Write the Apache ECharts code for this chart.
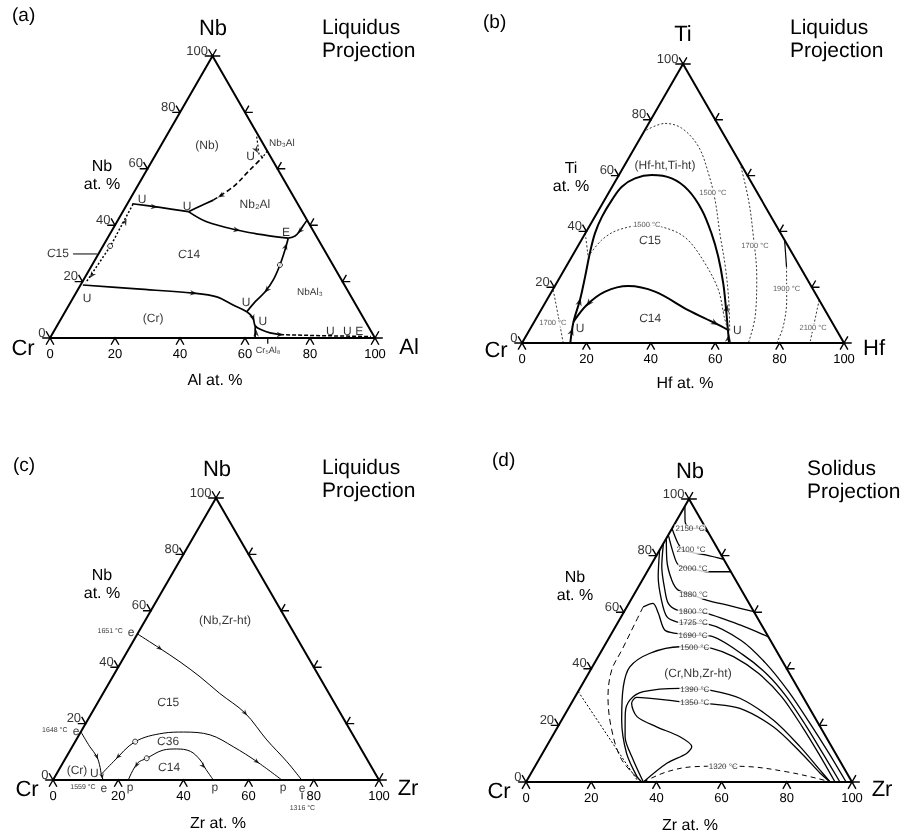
<!DOCTYPE html>
<html>
<head>
<meta charset="utf-8">
<title>Ternary liquidus and solidus projections</title>
<script src="https://cdn.jsdelivr.net/npm/echarts@6.0.0/dist/echarts.min.js"></script>
<style>
  html, body { margin: 0; padding: 0; background: #fff; }
  /* own compositing layer: keeps small text in plain greyscale antialiasing */
  #chart { width: 907px; height: 834px; will-change: transform; opacity: 0.999; }
  #chart text { text-rendering: geometricPrecision; }
</style>
</head>
<body>
<div id="chart"></div>
<script>
// Compositions are written as [right-corner at.%, top-corner at.%];
// the Cr corner (bottom left) takes the remainder.

const TICKS = [0, 20, 40, 60, 80, 100];

// ---------- (a) Cr–Nb–Al liquidus projection: [Al, Nb] ----------
const aUU      = [[1.5,47.6],[10.7,46.3],[20.2,44.8]];
const aUE      = [[20.2,44.8],[27.6,41.2],[38.3,38.3],[47.9,36.5],[55.6,35.4]];
const aEedge   = [[55.6,35.4],[57.3,36.2],[57.9,37.9],[58.0,39.7],[58.2,41.8]];
const aEU      = [[55.6,35.4],[56.7,31.2],[57.8,25.9],[58.4,20.6],[58.0,16.4],[56.7,12.9],[55.9,9.3]];
const aUNb3    = [[20.2,44.8],[23.0,46.9],[25.8,48.9]];
const aUNb3d   = [[25.8,48.9],[29.6,53.7],[31.7,59.6],[33.4,64.2]];
const aNb3Al   = [[27.9,71.4],[31.9,64.9],[33.4,64.2],[33.7,66.3]];
const aC15     = [[1.8,47.5],[2.3,32.6],[1.2,19.5]];
const aLow     = [[0.7,18.8],[18.0,17.4],[36.2,15.9],[44.0,14.6],[50.5,11.7],[55.9,9.3],[58.9,7.1],[61.0,4.3],[63.8,2.8],[66.8,1.8],[70.2,1.2]];
const aLowDash = [[70.2,1.2],[80.0,0.9],[98.5,0.5]];
const aCr5Al8  = [[63.1,0],[61.0,4.3]];
const aLeader  = [[-7.8,29.8],[-0.4,29.8]];
const aArrows  = [
  [[8.8,46.5],[12.0,46.1]], [[38.3,38.3],[42.0,37.6]], [[27.3,50.5],[25.8,48.9]],
  [[57.9,37.9],[57.3,36.2]], [[56.3,32.5],[55.9,34.5]], [[58.2,17.0],[57.6,14.5]],
  [[30.1,66.7],[31.5,65.3]], [[2.5,41.2],[2.2,44.5]], [[1.7,22.3],[1.4,20.5]],
  [[36.2,15.9],[40.0,15.4]], [[58.9,7.1],[60.5,5.2]], [[70.2,1.2],[74.0,1.05]],
  [[62.6,1.7],[62.0,3.0]]
];
const aNodes   = [[57.8,25.9],[2.2,32.6]];
const aPhases  = [['(Nb)',14.1,68.4],['Nb₂Al',39.3,47.5],['{i|C}14',27.9,29.8],['(Cr)',28.2,7.1],['{i|C}15',-12.6,30.1]];
const aSmall   = [['Nb₃Al',36.8,69.1],['NbAl₃',71.8,16.3]];
const aPoints  = [['U',29.5,64.5],['U',3.7,49.3],['U',18.8,46.8],['E',53.8,37.6],['U',4.3,14.2],['U',53.9,12.8],['U',62.5,6.0],['U',85.0,2.5],['U',90.2,2.5],['E',93.9,2.5]];
const aCompounds = [['Cr₅Al₈',67]];

// ---------- (b) Cr–Ti–Hf liquidus projection: [Hf, Ti] ----------
const bBig   = [[15.0,0],[12.2,7.6],[10.3,15.4],[7.7,23.8],[5.0,32.1],[3.0,39.3],[2.2,45.3],[2.3,51.3],[3.0,56.0],[5.6,59.0],[10.2,60.2],[17.0,59.0],[24.2,54.8],[32.0,47.7],[39.2,39.3],[45.5,30.9],[51.8,21.4],[56.8,13.0],[61.6,4.7],[64.3,0]];
const bC14   = [[12.2,7.6],[13.3,13.6],[16.6,18.4],[22.8,20.4],[32.1,18.4],[45.7,11.8],[56.4,7.1],[61.6,4.7]];
const b1500a = [[0.5,76.3],[5.0,78.7],[11.1,77.0],[19.6,70.4],[27.5,60.8],[34.3,51.3],[41.8,39.3],[49.5,27.3],[56.5,15.4],[62.6,3.8]];
const b1500b = [[5.1,30.9],[6.3,36.9],[9.6,40.5],[17.6,42.3],[26.2,40.5],[33.1,36.9],[42.5,28.6],[51.5,19.0],[58.1,9.4],[61.6,4.7]];
const b1700a = [[0,39.3],[5.1,30.9]];
const b1700b = [[0.2,19.0],[6.6,9.4],[12.8,0]];
const b1700c = [[35.4,64.6],[44.7,51.3],[52.1,39.3],[61.0,23.8],[67.7,9.4],[70.3,0]];
const b1900s = [[63.1,36.9],[68.5,27.3]];
const b1900  = [[68.5,27.3],[74.5,15.4],[78.2,5.8],[79.1,0]];
const b2100  = [[84.6,15.4],[89.4,0]];
const bArrows = [
  [[13.4,4.1],[12.9,6.5]], [[10.5,14.8],[9.7,18.0]], [[57.4,12.4],[56.4,15.5]],
  [[63.3,1.7],[62.6,3.5]], [[56.4,7.1],[60.0,5.4]], [[13.6,14.2],[12.7,10.0]]
];
const bPhases = [['(Hf-ht,Ti-ht)',12.5,63.8],['{i|C}15',21.3,36.9],['{i|C}14',35.3,9.0]];
const bPoints = [['U',15.3,5.4],['U',64.5,4.7]];
const bIso    = [['1500 °C',32.4,53.8],['1500 °C',17.6,42.3],['1700 °C',6.0,7.2],['1700 °C',54.8,35.1],['1900 °C',72.3,19.7],['2100 °C',87.7,5.4]];

// ---------- (c) Cr–Nb–Zr liquidus projection: [Zr, Nb] ----------
const cE1651 = [[0,51.8],[9.4,46.7],[18.0,41.9],[26.8,36.6],[35.8,30.7],[47.1,23.7],[58.5,14.2],[68.5,6.5],[76.3,0]];
const cE1648 = [[0,17.1],[5.4,11.8],[9.3,8.3],[12.2,4.5],[13.8,2.0],[15.4,0]];
const cC36   = [[13.8,2.0],[15.3,6.5],[18.4,13.6],[25.5,16.6],[31.5,17.0],[40.2,16.0],[49.4,11.8],[59.3,6.5],[70.2,0]];
const cC14   = [[23.1,0],[22.9,5.9],[24.9,7.7],[28.5,10.6],[32.4,11.0],[37.0,10.2],[41.6,7.1],[45.0,3.8],[49.2,0]];
const cArrows = [
  [[9.4,46.7],[12.0,45.2]], [[47.1,23.7],[50.0,21.4]], [[9.3,8.3],[11.0,6.2]],
  [[14.4,1.3],[15.0,0.4]], [[15.8,8.3],[15.0,6.0]], [[59.3,6.5],[62.5,4.6]],
  [[23.0,5.3],[23.1,1.0]], [[43.5,5.0],[46.0,2.8]]
];
const cNodes  = [[18.4,13.6],[24.9,7.7]];
const cPhases = [['(Nb,Zr-ht)',24.4,56.7],['{i|C}15',21.5,27.7],['{i|C}36',28.4,13.8],['{i|C}14',33.3,4.6],['(Cr)',5.6,3.5]];
const cPoints = [['e',-2.3,52.5],['e',-1.6,17.4],['U',11.4,2.5],['e',17.0,-2.8],['p',24.9,-2.5],['p',50.9,-2.5],['p',71.8,-2.5],['e',77.8,-2.8]];
const cTemps  = [['1651 °C',-8.7,52.5],['1648 °C',-8.3,17.7],['1559 °C',10.6,-2.8],['1316 °C',81.6,-10.2]];
const cMarks  = [76.4];

// ---------- (d) Cr–Nb–Zr solidus projection: [Zr, Nb] ----------
const d2150 = [[0.1,97.3],[2.8,92.0],[5.5,89.7],[9.1,89.5],[11.9,88.1]];
const d2100 = [[0,89.6],[4.5,84.3],[7.5,81.8],[11.0,81.0],[15.3,80.2],[21.3,78.7]];
const d2000 = [[0,87.3],[4.8,80.8],[8.4,76.7],[13.5,75.3],[18.2,74.3],[25.7,74.3]];
const d1880 = [[0,86.1],[4.0,78.4],[9.0,71.4],[12.8,67.8],[18.3,66.0],[23.2,64.3],[31.3,62.3],[39.8,60.2]];
const d1800 = [[0,84.3],[3.6,76.1],[8.7,67.8],[12.1,63.1],[15.8,60.8],[21.2,60.0],[25.6,59.6],[37.9,55.5],[48.7,51.3]];
const d1725 = [[0,82.0],[4.3,72.5],[9.4,64.3],[14.0,58.4],[17.9,56.6],[23.2,56.1],[27.9,55.8],[41.0,50.0],[52.5,42.0],[64.5,32.0],[77.5,20.0],[88.0,10.0],[98.2,0]];
const d1690 = [[5.0,61.9],[7.4,63.1],[10.8,59.6],[15.7,53.7],[19.9,52.5],[25.3,51.9],[30.6,51.6],[44.0,45.0],[55.0,38.0],[65.0,30.0],[75.8,20.0],[86.1,10.0],[96.3,0]];
const d1500 = [[35.5,0],[33.1,1.9],[25.8,10.1],[18.4,21.9],[13.0,33.7],[11.5,40.7],[15.3,45.5],[23.3,47.8],[27.9,47.7],[33.4,47.2],[41.5,44.3],[52.1,38.4],[63.4,30.1],[75.0,19.5],[84.7,10.1],[94.8,0]];
const d1390 = [[36.0,0],[29.0,7.8],[22.4,16.0],[18.3,24.3],[17.4,29.0],[20.0,31.9],[30.6,33.1],[35.4,32.8],[40.1,32.5],[50.8,29.6],[64.9,21.9],[77.8,12.5],[88.1,4.2],[93.3,0]];
const d1350 = [[36.0,0],[39.9,6.6],[44.2,10.1],[44.6,12.5],[39.2,16.0],[30.3,19.5],[22.5,23.1],[18.5,27.8],[19.0,29.9],[33.0,28.4],[37.8,28.0],[42.6,27.6],[52.6,26.0],[66.1,19.5],[78.7,10.7],[88.7,3.1],[93.3,0]];
const d1320 = [[36.0,0],[41.4,3.6],[48.6,5.4],[57.8,5.6],[66.0,5.4],[78.2,3.6],[88.6,1.3],[93.3,0]];
const dBoundary = [[5.0,61.9],[5.4,56.1],[6.1,46.6],[6.5,39.6],[10.1,30.1],[17.1,18.4],[25.5,7.8],[35.5,0]];
const dDotted   = [[0,32.0],[34.5,0]];
const dIso = [['2150 °C',5.5,89.6],['2100 °C',9.6,82.0],['2000 °C',13.5,75.5],['1880 °C',18.3,66.1],['1800 °C',21.2,60.2],['1725 °C',23.2,56.3],['1690 °C',25.3,51.9],['1500 °C',27.9,47.7],['1390 °C',35.4,32.8],['1350 °C',37.8,28.0],['1320 °C',57.8,5.4]];
const dPhases = [['(Cr,Nb,Zr-ht)',33.5,38.5]];

// ---------- drawing ----------
const FONT = '"Liberation Sans", Arial, Helvetica, sans-serif';
const K = Math.sqrt(3) / 2;
const toXY = ([b, t]) => [b + t / 2, t * K];

const grids = [
  { left: 50,  top: 56,  width: 325, height: 282 },
  { left: 522, top: 64,  width: 322, height: 279 },
  { left: 53,  top: 498, width: 326, height: 282 },
  { left: 526, top: 499, width: 326, height: 283 }
];

const series = [];
const axes = p => ({ xAxisIndex: p, yAxisIndex: p });

function curve(p, pts, o = {}) {
  series.push(Object.assign(axes(p), {
    type: 'line', data: pts.map(toXY), symbol: 'none',
    smooth: o.smooth ?? 0.35, clip: false, silent: true, z: 3,
    lineStyle: { color: o.color || '#000', width: o.width || 1.5, type: o.type || 'solid' }
  }));
}

function polylines(p, list, width, z) {
  series.push(Object.assign(axes(p), {
    type: 'lines', coordinateSystem: 'cartesian2d', polyline: true,
    silent: true, clip: false, z: z || 4,
    lineStyle: { color: '#000', width: width, opacity: 1, curveness: 0 },
    data: list.map(c => ({ coords: c }))
  }));
}

const plainText = { color: '#000', textBorderWidth: 0, textBorderColor: 'transparent', textShadowBlur: 0 };

function frame(p) {
  const L = 2.4;
  const ticks = [];
  TICKS.forEach(v => {
    ticks.push([[v - L / 2, -L * K], [v, 0], [v + L / 2, -L * K]]);
    const [lx, ly] = toXY([0, v]);
    ticks.push([[lx - L, ly], [lx, ly], [lx - L / 2, ly + L * K]]);
    const [rx, ry] = toXY([100 - v, v]);
    ticks.push([[rx + L, ry], [rx, ry], [rx + L / 2, ry + L * K]]);
  });
  polylines(p, [[[0, 0], [100, 0], [50, 100 * K], [0, 0]]], 2, 4);
  polylines(p, ticks, 1.4, 4);
  // tick labels along the left edge
  series.push(Object.assign(axes(p), {
    type: 'scatter', symbolSize: 1, itemStyle: { color: 'rgba(0,0,0,0)' },
    silent: true, clip: false, z: 6,
    data: TICKS.map(v => ({ value: toXY([0, v]), label: { formatter: String(v) } })),
    label: Object.assign({ show: true, position: 'left', distance: 4, offset: [0, -6], fontSize: 13, fontFamily: FONT }, plainText)
  }));
}

function texts(p, list, style) {
  const fs = style.fontSize || 12;
  series.push(Object.assign(axes(p), {
    type: 'scatter', symbolSize: 1, itemStyle: { color: 'rgba(0,0,0,0)' },
    silent: true, clip: false, z: 7,
    data: list.map(([s, b, t]) => ({ value: toXY([b, t]), label: { formatter: s } })),
    label: Object.assign({
      show: true, position: 'inside', fontFamily: FONT, fontSize: fs,
      rich: { i: Object.assign({ fontStyle: 'italic', fontFamily: FONT, fontSize: fs }, plainText) }
    }, plainText, style)
  }));
}

const ARROW = 'path://M0,0L10,5L0,10L3,5Z';
function arrows(p, list, size) {
  series.push(Object.assign(axes(p), {
    type: 'scatter', symbol: ARROW, symbolSize: [size, size * 0.8],
    silent: true, clip: false, z: 5, itemStyle: { color: '#000' },
    data: list.map(([a, b]) => {
      const A = toXY(a), B = toXY(b);
      return { value: A, symbolRotate: Math.atan2(B[1] - A[1], B[0] - A[0]) * 180 / Math.PI };
    })
  }));
}

function nodes(p, list, size) {
  series.push(Object.assign(axes(p), {
    type: 'scatter', symbol: 'circle', symbolSize: size, silent: true, clip: false, z: 5,
    itemStyle: { color: '#fff', borderColor: '#000', borderWidth: 1 },
    data: list.map(toXY)
  }));
}

// ----- panel (a) -----
frame(0);
[aUU, aUE, aEedge, aEU, aUNb3, aLow, aCr5Al8].forEach(s => curve(0, s, { width: 1.7 }));
curve(0, aUNb3d, { width: 1.6, type: [5, 3] });
curve(0, aNb3Al, { width: 1.2, type: [2, 2], smooth: 0 });
curve(0, aC15, { width: 1.5, type: [2, 2], smooth: 0 });
curve(0, aLowDash, { width: 1.5, type: [4, 2], smooth: 0 });
curve(0, aLeader, { width: 1, smooth: 0 });
arrows(0, aArrows, 7);
nodes(0, aNodes, 5);
texts(0, aPhases, { fontSize: 12 });
texts(0, aSmall, { fontSize: 10 });
texts(0, aPoints, { fontSize: 12 });
aCompounds.forEach(([name, b]) => {
  polylines(0, [[[b, 0], [b, -1.8]]], 1.2, 4);
  texts(0, [[name, b + 2.2, -4.2]], { fontSize: 9 });
});

// ----- panel (b) -----
frame(1);
curve(1, bBig, { width: 2 });
curve(1, bC14, { width: 2 });
const dotted = { width: 1, type: [2, 2], color: '#333' };
[b1500a, b1500b, b1700a, b1700b, b1700c, b1900, b2100].forEach(s => curve(1, s, dotted));
curve(1, b1900s, { width: 1.2, smooth: 0 });
arrows(1, bArrows, 8);
texts(1, bPhases, { fontSize: 12 });
texts(1, bPoints, { fontSize: 12 });
texts(1, bIso, { fontSize: 7.5, color: '#333', backgroundColor: '#fff', padding: [0, 1] });

// ----- panel (c) -----
frame(2);
[cE1651, cE1648, cC36, cC14].forEach(s => curve(2, s, { width: 1 }));
arrows(2, cArrows, 6);
nodes(2, cNodes, 5);
texts(2, cPhases, { fontSize: 12 });
texts(2, cPoints, { fontSize: 12 });
texts(2, cTemps, { fontSize: 7 });
cMarks.forEach(b => polylines(2, [[[b, -3.9], [b, -5.9]]], 1, 4));

// ----- panel (d) -----
frame(3);
[d2150, d2100, d2000, d1880, d1800, d1725, d1690, d1500, d1390, d1350].forEach(s => curve(3, s, { width: 1.3, smooth: 0.3 }));
curve(3, d1320, { width: 1, type: [5, 4] });
curve(3, dBoundary, { width: 1, type: [6, 4] });
curve(3, dDotted, { width: 1, type: [2, 2], smooth: 0 });
texts(3, dIso, { fontSize: 8, backgroundColor: '#fff', padding: [0, 1] });
texts(3, dPhases, { fontSize: 12 });

// ----- titles and corner names -----
const graphic = [];
function gText(x, y, s, size, align) {
  graphic.push({
    type: 'text', x: x, y: y, silent: true, z: 10,
    style: { text: s, font: size + 'px ' + FONT, fill: '#000',
             align: align || 'center', verticalAlign: 'middle',
             textAlign: align || 'center', textVerticalAlign: 'middle' }
  });
}
const panelText = [
  { tag: '(a)', tagAt: [12, 15],  top: 'Nb', topAt: [213, 27], t1: 'Liquidus', t2: 'Projection', tAt: [322, 27],
    left: 'Cr', leftAt: [23, 347], right: 'Al', rightAt: [409, 346], ax: 'Nb', axAt: [102, 166], xt: 'Al at. %', xtAt: [215, 380] },
  { tag: '(b)', tagAt: [483, 22], top: 'Ti', topAt: [683, 33], t1: 'Liquidus', t2: 'Projection', tAt: [790, 27],
    left: 'Cr', leftAt: [496, 349], right: 'Hf', rightAt: [874, 347], ax: 'Ti', axAt: [571, 168], xt: 'Hf at. %', xtAt: [685, 383] },
  { tag: '(c)', tagAt: [13, 465], top: 'Nb', topAt: [217, 468], t1: 'Liquidus', t2: 'Projection', tAt: [322, 467],
    left: 'Cr', leftAt: [27, 788], right: 'Zr', rightAt: [408, 787], ax: 'Nb', axAt: [102, 575], xt: 'Zr at. %', xtAt: [218, 823] },
  { tag: '(d)', tagAt: [492, 460], top: 'Nb', topAt: [690, 470], t1: 'Solidus', t2: 'Projection', tAt: [807, 468],
    left: 'Cr', leftAt: [499, 790], right: 'Zr', rightAt: [882, 788], ax: 'Nb', axAt: [575, 577], xt: 'Zr at. %', xtAt: [690, 825] }
];
panelText.forEach(t => {
  gText(t.tagAt[0], t.tagAt[1], t.tag, 19, 'left');
  gText(t.topAt[0], t.topAt[1], t.top, 22);
  gText(t.tAt[0], t.tAt[1], t.t1, 21, 'left');
  gText(t.tAt[0], t.tAt[1] + 23, t.t2, 21, 'left');
  gText(t.leftAt[0], t.leftAt[1], t.left, 22);
  gText(t.rightAt[0], t.rightAt[1], t.right, 22);
  gText(t.axAt[0], t.axAt[1], t.ax, 16);
  gText(t.axAt[0], t.axAt[1] + 18, 'at. %', 16);
  gText(t.xtAt[0], t.xtAt[1], t.xt, 16);
});

const chart = echarts.init(document.getElementById('chart'), null, { renderer: 'svg' });
chart.setOption({
  animation: false,
  backgroundColor: '#fff',
  grid: grids.map(g => Object.assign({ containLabel: false }, g)),
  xAxis: grids.map((g, i) => ({
    gridIndex: i, type: 'value', min: 0, max: 100, interval: 20,
    axisLine: { show: false }, axisTick: { show: false }, splitLine: { show: false },
    axisLabel: { fontSize: 13, color: '#000', fontFamily: FONT, margin: 9, showMinLabel: true, showMaxLabel: true }
  })),
  yAxis: grids.map((g, i) => ({ gridIndex: i, type: 'value', min: 0, max: 100 * K, show: false })),
  series: series,
  graphic: graphic
});
</script>
</body>
</html>
